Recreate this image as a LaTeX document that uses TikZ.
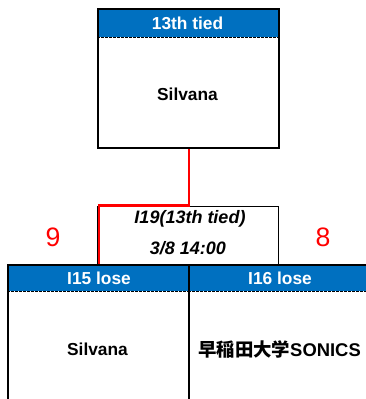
\documentclass[tikz,border=0pt]{standalone}
\usepackage{fontspec}
\setmainfont{Liberation Sans}
\newfontfamily\cjk{Noto Sans CJK JP}
\definecolor{hdrblue}{HTML}{0070C0}
\begin{document}
\begin{tikzpicture}[x=0.75pt,y=-0.75pt,
  boxframe/.style={draw=black,line width=1.6pt,inner sep=0pt},
  hdrfill/.style={fill=hdrblue},
  hdrline/.style={draw=black,line width=0.5pt,dash pattern=on 2pt off 1pt},
  hdrtext/.style={text=white,font=\bfseries\fontsize{13}{15}\selectfont,inner sep=0pt},
  teamtext/.style={font=\bfseries\fontsize{13}{15}\selectfont,inner sep=0pt},
  matchtext/.style={font=\bfseries\itshape\fontsize{13.5}{15}\selectfont,inner sep=0pt},
  scoretext/.style={text=red,font=\fontsize{20}{22}\selectfont,inner sep=0pt},
  winline/.style={draw=red,line width=1.6pt}]
\useasboundingbox (0,0) rectangle (366,399);
\clip (0,0) rectangle (366,399);
% top box
\fill[hdrfill] (97,8) rectangle (278,37);
\draw[hdrline] (97,37) -- (278,37);
\node[boxframe,minimum width=135.75pt,minimum height=104.25pt,anchor=north west] (top) at (97,8) {};
\node[hdrtext] (toph) at (187.5,23) {13th tied};
\node[teamtext] (topn) at (187.5,94) {Silvana};
% match box
\node[draw=black,line width=0.7pt,inner sep=0pt,minimum width=135.75pt,minimum height=43.5pt,anchor=north west] (mid) at (97,205.5) {};
\node[matchtext] (midl1) at (190,219) {I19(13th tied)};
\node[matchtext] (midl2) at (188,248) {3/8 14:00};
% lower left box
\fill[hdrfill] (7,263.5) rectangle (188,291);
\draw[hdrline] (7,291) -- (188,291);
\node[boxframe,minimum width=135.75pt,minimum height=105pt,anchor=north west] (lbox) at (7,263.5) {};
\node[hdrtext] (lh) at (99,278) {I15 lose};
\node[teamtext] (ln) at (97.5,349) {Silvana};
% lower right box
\fill[hdrfill] (188,263.5) rectangle (369,291);
\draw[hdrline] (188,291) -- (369,291);
\node[boxframe,minimum width=135.75pt,minimum height=105pt,anchor=north west] (rbox) at (188,263.5) {};
\node[hdrtext] (rh) at (280,278) {I16 lose};
\node[teamtext,font=\bfseries\fontsize{13.8}{15}\selectfont] (rn) at (279.5,349) {{\cjk 早稲田大学}SONICS};
% scores
\node[scoretext] (ls) at (53,237) {9};
\node[scoretext] (rs) at (323,237) {8};
% winner line
\draw[winline] (top.south) -- (top.south |- mid.north) -| (lbox.north);
\end{tikzpicture}
\end{document}
